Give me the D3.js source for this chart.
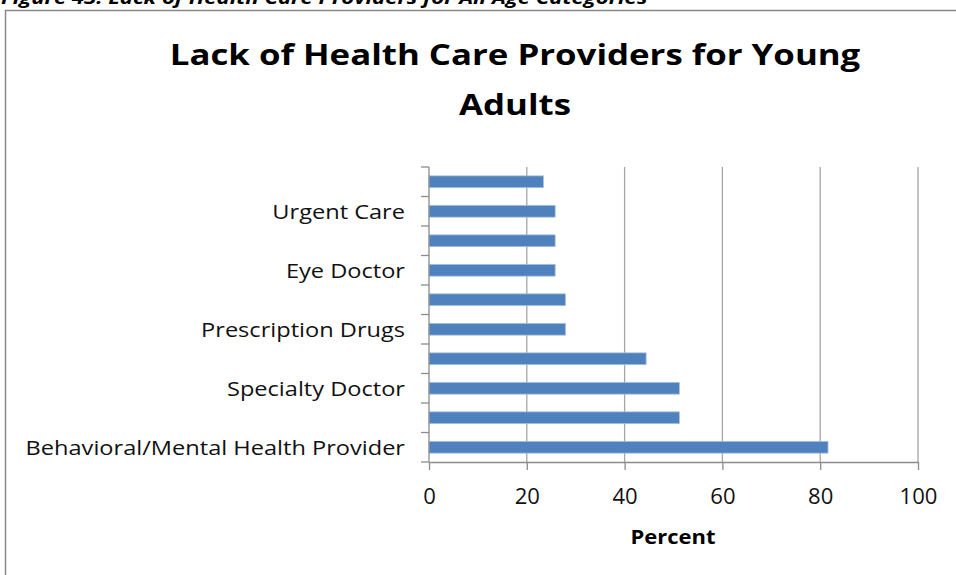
<!DOCTYPE html>
<html><head><meta charset="utf-8">
<script src="https://cdn.jsdelivr.net/npm/d3@7"></script>
<style>
html,body{margin:0;padding:0;background:#fff;overflow:hidden}
svg{display:block}
text{font-family:"Open Sans","Liberation Sans",sans-serif}
</style></head><body>
<script>
// Data listed top to bottom as drawn
const categories = ["Hospital","Urgent Care","Dentist","Eye Doctor","Pharmacy","Prescription Drugs","Primary Care Doctor","Specialty Doctor","Substance Abuse Treatment","Behavioral/Mental Health Provider"];
const shownLabels = ["Urgent Care","Eye Doctor","Prescription Drugs","Specialty Doctor","Behavioral/Mental Health Provider"];
const values = [23.4, 25.8, 25.8, 25.8, 27.9, 27.9, 44.4, 51.2, 51.2, 81.6];
const xTicks = [0,20,40,60,80,100];
const titleLines = ["Lack of Health Care Providers for Young","Adults"];
const caption = "Figure 43: Lack of Health Care Providers for All Age Categories";
const xLabel = "Percent";

const W=956,H=575;
const svg=d3.select("body").append("svg").attr("width",W).attr("height",H);
const m={left:429,right:918,top:167,bottom:462};
const x=d3.scaleLinear().domain([0,100]).range([m.left,m.right]);
const y=d3.scaleBand().domain(categories).range([m.top,m.bottom]).paddingInner(0.6).paddingOuter(0.3);
const yb=d3.scaleBand().domain(categories).range([m.top,m.bottom]);

function stretch(sel,f){
  sel.each(function(){
    const n=this.getComputedTextLength();
    if(n>0) d3.select(this).attr("textLength",n*f).attr("lengthAdjust","spacingAndGlyphs");
  });
}

// caption (clipped at top as in the source page)
const cap=svg.append("text").attr("x",1).attr("y",4).attr("font-size",17).attr("font-weight","bold").attr("font-style","italic").text(caption);
stretch(cap,1.3);
// chart frame
svg.append("rect").attr("x",5.5).attr("y",10.5).attr("width",W+10).attr("height",H+10).attr("fill","none").attr("stroke","#888").attr("stroke-width",1.5);

// gridlines
svg.append("g").selectAll("line").data(xTicks.slice(1)).join("line")
  .attr("x1",d=>x(d)).attr("x2",d=>x(d)).attr("y1",m.top).attr("y2",m.bottom)
  .attr("stroke","#a6a6a6").attr("stroke-width",1.3);

// bars
svg.append("g").selectAll("rect").data(values).join("rect")
  .attr("x",x(0)).attr("y",(d,i)=>y(categories[i]))
  .attr("width",d=>x(d)-x(0)).attr("height",y.bandwidth())
  .attr("fill","#4f81bd").attr("stroke","#a9c1e0").attr("stroke-width",0.8);

// y axis
const ya=svg.append("g").attr("transform",`translate(${m.left},0)`)
  .call(d3.axisLeft(yb).tickSize(0).tickFormat(d=>shownLabels.includes(d)?d:""));
ya.select(".domain").remove();
ya.selectAll("text").attr("font-size",20.5).attr("fill","#111").attr("x",-24).attr("dy","0.36em");
stretch(ya.selectAll("text"),1.15);
// y ticks at band boundaries
const bounds=categories.map(c=>yb(c)).concat([m.bottom]);
svg.append("g").selectAll("line").data(bounds).join("line")
  .attr("x1",m.left-8).attr("x2",m.left).attr("y1",d=>d).attr("y2",d=>d)
  .attr("stroke","#8c8c8c").attr("stroke-width",1.3);
svg.append("line").attr("x1",m.left).attr("x2",m.left).attr("y1",m.top).attr("y2",m.bottom).attr("stroke","#8c8c8c").attr("stroke-width",1.3);

// x axis
const xa=svg.append("g").attr("transform",`translate(0,${m.bottom})`)
  .call(d3.axisBottom(x).tickValues(xTicks).tickSize(8).tickSizeOuter(0));
xa.select(".domain").attr("stroke","#8c8c8c").attr("stroke-width",1.3);
xa.selectAll(".tick line").attr("stroke","#8c8c8c").attr("stroke-width",1.3);
xa.selectAll("text").attr("font-size",21).attr("fill","#111").attr("y",27);
stretch(xa.selectAll("text"),1.05);

// title
const tt=svg.append("g").selectAll("text").data(titleLines).join("text")
  .attr("x",515).attr("y",(d,i)=>65+i*50).attr("text-anchor","middle")
  .attr("font-size",29).attr("font-weight","bold").text(d=>d);
stretch(tt,1.2);
// x label
const xl=svg.append("text").attr("x",673).attr("y",544).attr("text-anchor","middle")
  .attr("font-size",20).attr("font-weight","bold").text(xLabel);
stretch(xl,1.1);
</script>
</body></html>
